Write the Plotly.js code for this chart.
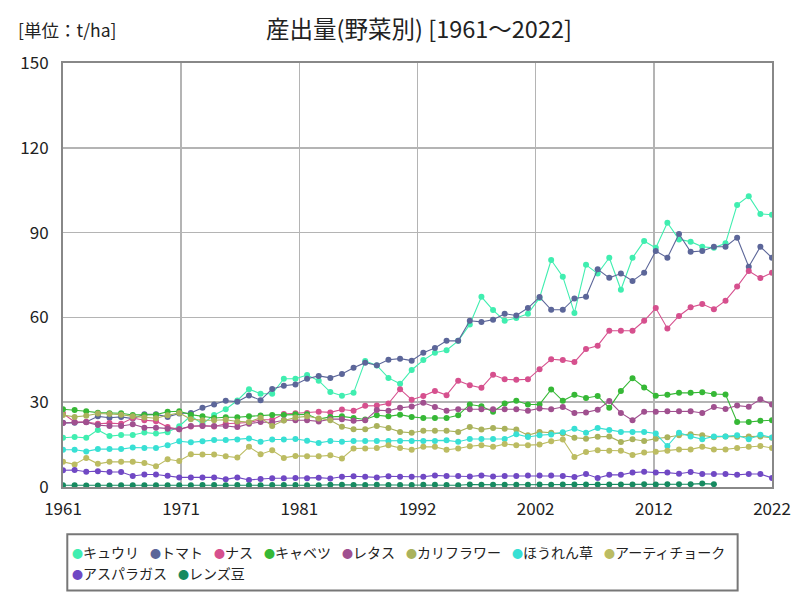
<!DOCTYPE html>
<html><head><meta charset="utf-8">
<script src="https://cdn.plot.ly/plotly-3.0.1.min.js"></script>
<style>html,body{margin:0;padding:0;background:#fff}#chart{width:800px;height:600px}</style>
</head><body><div id="chart"></div>
<script>
const years = [1961,1962,1963,1964,1965,1966,1967,1968,1969,1970,
1971,1972,1973,1974,1975,1976,1977,1978,1979,1980,
1981,1982,1983,1984,1985,1986,1987,1988,1989,1990,
1991,1992,1993,1994,1995,1996,1997,1998,1999,2000,
2001,2002,2003,2004,2005,2006,2007,2008,2009,2010,
2011,2012,2013,2014,2015,2016,2017,2018,2019,2020,
2021,2022];

const seriesNames = ['キュウリ','トマト','ナス','キャベツ','レタス','カリフラワー','ほうれん草','アーティチョーク','アスパラガス','レンズ豆'];
const seriesColors = ['#40eeb0','#5c6699','#d6508e','#36b836','#a0508f','#aab25c','#38e0d4','#bcbc62','#7048c4','#168a60'];

const cucumber = [17.4,17.7,17.4,20.2,18.0,18.4,18.4,19.3,18.9,19.4,
21.5,25.2,22.3,25.5,27.5,30.6,34.6,33.0,33.0,38.3,
38.3,39.6,37.6,33.6,32.3,33.3,44.6,43.0,38.6,36.5,
41.4,44.9,47.5,48.4,51.7,57.5,67.3,62.6,58.8,59.8,
61.3,66.9,80.3,74.4,61.6,78.6,75.5,81.1,69.8,81.1,
87.0,84.6,93.5,87.6,86.8,85.0,84.6,86.2,99.8,102.9,
96.6,96.3];
const tomato = [22.7,22.7,23.0,25.0,24.5,24.8,24.2,25.7,25.7,24.8,
26.0,26.2,28.0,29.2,30.5,30.2,32.4,30.7,34.7,35.8,
36.3,38.3,39.3,38.6,40.0,42.2,44.0,43.1,45.0,45.4,
44.7,47.5,49.2,51.7,51.7,58.8,58.4,59.2,61.3,60.7,
63.3,67.2,62.7,62.7,66.7,67.3,77.0,74.0,75.5,72.9,
75.8,83.5,81.1,89.5,83.2,83.5,85.0,85.0,88.2,77.9,
85.0,81.1];
const eggplant = [26.0,23.0,23.0,22.4,22.6,22.4,24.4,23.6,23.3,21.2,
20.4,21.4,21.7,21.4,22.4,22.6,22.8,23.8,23.8,25.8,
26.1,26.2,26.6,26.4,27.4,27.0,28.7,28.8,29.5,34.6,
30.9,32.2,34.0,32.5,37.6,36.0,35.1,39.7,38.1,37.9,
38.1,41.7,45.2,44.9,44.2,48.8,50.0,55.3,55.3,55.3,
58.8,63.3,56.1,60.5,63.6,64.7,62.9,65.9,70.9,76.4,
73.9,75.8];
const cabbage = [27.5,27.2,26.8,26.3,26.1,26.1,25.5,25.5,25.6,26.6,
26.8,25.6,25.0,24.4,24.7,24.7,25.0,25.3,25.5,25.5,
25.7,25.7,24.0,24.8,25.0,24.4,23.9,25.4,25.0,25.6,
24.8,24.4,24.4,24.4,25.4,29.2,28.6,26.6,29.5,30.5,
29.2,29.2,34.5,30.5,32.6,31.5,32.2,28.0,34.0,38.5,
35.2,32.3,32.6,33.3,33.3,33.5,32.9,32.7,23.0,23.0,
23.4,23.6];
const lettuce = [22.6,22.9,22.9,21.9,21.6,21.6,22.2,21.0,21.0,20.6,
20.4,21.6,21.6,21.6,21.6,21.2,22.4,23.0,22.8,23.6,
23.6,23.6,23.2,24.0,24.0,23.4,23.6,27.2,27.0,28.0,
28.5,29.8,28.3,27.0,27.5,27.5,27.5,27.5,27.5,27.5,
27.0,27.8,27.5,28.3,26.2,26.4,27.3,30.4,26.2,23.6,
26.6,26.6,26.8,26.8,26.8,26.2,28.3,27.6,28.8,28.4,
31.0,29.2];
const cauliflower = [25.5,24.8,25.2,26.0,25.8,25.6,25.0,24.6,24.3,25.4,
26.2,24.0,23.6,23.6,23.8,23.2,23.0,24.5,21.6,23.5,
24.6,25.0,24.2,23.6,21.3,20.4,20.4,21.6,20.9,19.5,
19.2,19.9,19.9,19.9,19.5,21.2,20.3,20.9,20.6,20.3,
18.3,19.5,19.2,18.9,17.4,17.1,17.8,17.9,15.9,16.9,
16.3,17.1,17.6,18.3,18.7,18.3,17.6,17.9,17.8,17.9,
17.9,17.4];
const spinach = [13.2,13.2,12.6,13.4,13.4,13.4,14.0,13.8,13.8,14.8,
16.2,15.8,16.2,16.6,16.6,16.8,17.2,16.0,16.8,16.8,
17.0,16.4,15.6,16.3,16.0,16.3,16.3,16.3,16.3,16.3,
16.3,16.3,16.3,16.5,16.0,17.0,17.0,17.0,17.0,18.7,
17.7,18.3,18.6,19.4,20.6,19.2,20.9,20.2,19.5,19.5,
19.5,18.9,14.5,19.2,17.9,16.9,17.9,17.9,18.3,16.9,
18.5,17.5];
const artichoke = [8.9,8.0,10.3,8.2,8.9,8.9,8.9,8.5,7.3,9.8,
9.2,11.6,11.5,11.5,10.9,10.4,14.2,11.6,13.0,10.3,
11.0,10.9,10.9,11.2,10.1,13.6,13.6,13.8,14.8,13.8,
13.2,14.2,14.2,13.2,13.6,14.4,14.8,14.2,15.2,14.8,
14.8,15.0,16.2,16.8,10.6,12.4,13.0,12.8,12.8,11.3,
12.2,12.5,12.8,13.3,13.3,14.2,13.3,13.3,13.8,14.2,
14.5,13.8];
const asparagus = [5.9,6.0,5.4,5.6,5.3,5.3,3.9,4.4,4.4,4.0,
3.4,3.4,3.4,3.4,2.7,3.4,2.5,2.8,3.1,3.1,
3.2,3.1,3.3,3.0,3.6,3.8,3.6,3.4,3.8,3.6,
3.6,3.6,4.1,3.9,3.9,3.7,4.1,3.7,3.9,3.9,
4.1,4.1,4.1,3.9,3.5,4.6,3.2,4.3,4.3,5.1,
5.4,5.1,5.1,4.7,5.3,4.6,4.6,4.6,4.3,4.6,
4.6,3.2];
const lentil = [0.6,0.6,0.5,0.5,0.5,0.6,0.6,0.6,0.6,0.6,
0.6,0.6,0.7,0.7,0.6,0.7,0.6,0.6,0.7,0.7,
0.7,0.6,0.6,0.8,0.8,0.7,0.7,0.8,0.7,0.7,
0.7,0.8,0.8,0.7,0.6,0.9,0.8,0.8,0.8,0.8,
0.8,0.9,0.8,0.9,0.9,0.9,0.9,0.9,0.9,0.9,
1.0,0.9,1.0,1.0,1.0,1.2,1.0,null,null,null,
null,null];

const xTickText = ['1961','1971','1981','1992','2002','2012','2022'];
const yTickVals = [0,30,60,90,120,150];

const allSeries = [cucumber,tomato,eggplant,cabbage,lettuce,cauliflower,spinach,artichoke,asparagus,lentil];

const traces = allSeries.map((vals,k)=>({
  type:'scatter', mode:'lines+markers', name:seriesNames[k],
  x:years, y:vals,
  line:{color:seriesColors[k], width:1.1},
  marker:{color:seriesColors[k], size:6},
  connectgaps:false, showlegend:false
}));

const W=800,H=600, L=62.7, R=772.4, T=63.2, B=486.7;
const pw=R-L, ph=B-T;
const xmin=years[0], xmax=years[years.length-1];
const xTickVals = xTickText.map((t,i)=> xmin + i*(xmax-xmin)/(xTickText.length-1));

// legend built from names/colors
const annotations=[];
const charW=14, base=22, boxL=67, boxR=738, rowY=[552,573];
let px=76, row=0;
seriesNames.forEach((n,k)=>{
  const w = base + charW*n.length;
  if (px + w - 10 > boxR) { row++; px=76; }
  annotations.push({
    xref:'paper', yref:'paper', x:(px-6-L)/pw, y:(B-rowY[row])/ph,
    xanchor:'left', yanchor:'middle', showarrow:false,
    text:'<span style="color:'+seriesColors[k]+';font-size:11px">●</span>'+n,
    font:{family:'Noto Sans CJK JP', size:14, color:'#222'}
  });
  px += w;
});
annotations.push({
  xref:'paper', yref:'paper', x:(16-L)/pw, y:(B-30)/ph, xanchor:'left', yanchor:'middle',
  showarrow:false, text:'[単位：t/ha]', font:{family:'Noto Sans CJK JP', size:17.5, color:'#222'}
});

const layout = {
  width:W, height:H,
  margin:{l:L, r:W-R, t:T, b:H-B, pad:0},
  paper_bgcolor:'#fff', plot_bgcolor:'#fff',
  showlegend:false,
  title:{text:'産出量(野菜別) [1961～2022]', x:(419)/W, xanchor:'center', y:1-30/H, yanchor:'middle',
    font:{family:'Noto Sans CJK JP', size:23.5, color:'#222'}},
  xaxis:{range:[xmin,xmax], tickmode:'array', tickvals:xTickVals, ticktext:xTickText,
    showgrid:true, gridcolor:'#b4b4b4', gridwidth:1.6, zeroline:false,
    showline:true, mirror:true, linecolor:'#888', linewidth:2, ticks:'', ticklabelstandoff:6,
    tickfont:{family:'Noto Sans CJK JP', size:17, color:'#222'}},
  yaxis:{range:[0,150], tickmode:'array', tickvals:yTickVals,
    showgrid:true, gridcolor:'#b4b4b4', gridwidth:1.6, zeroline:false,
    showline:true, mirror:true, linecolor:'#888', linewidth:2, ticks:'', ticklabelstandoff:9,
    tickfont:{family:'Noto Sans CJK JP', size:17, color:'#222'}},
  shapes:[{type:'rect', xref:'paper', yref:'paper', x0:(boxL-L)/pw, x1:(boxR-L)/pw,
    y0:(B-534)/ph, y1:(B-590)/ph, line:{color:'#777', width:2}, fillcolor:'rgba(0,0,0,0)'}],
  annotations:annotations
};
Plotly.newPlot('chart', traces, layout, {displayModeBar:false, staticPlot:true});
</script></body></html>
